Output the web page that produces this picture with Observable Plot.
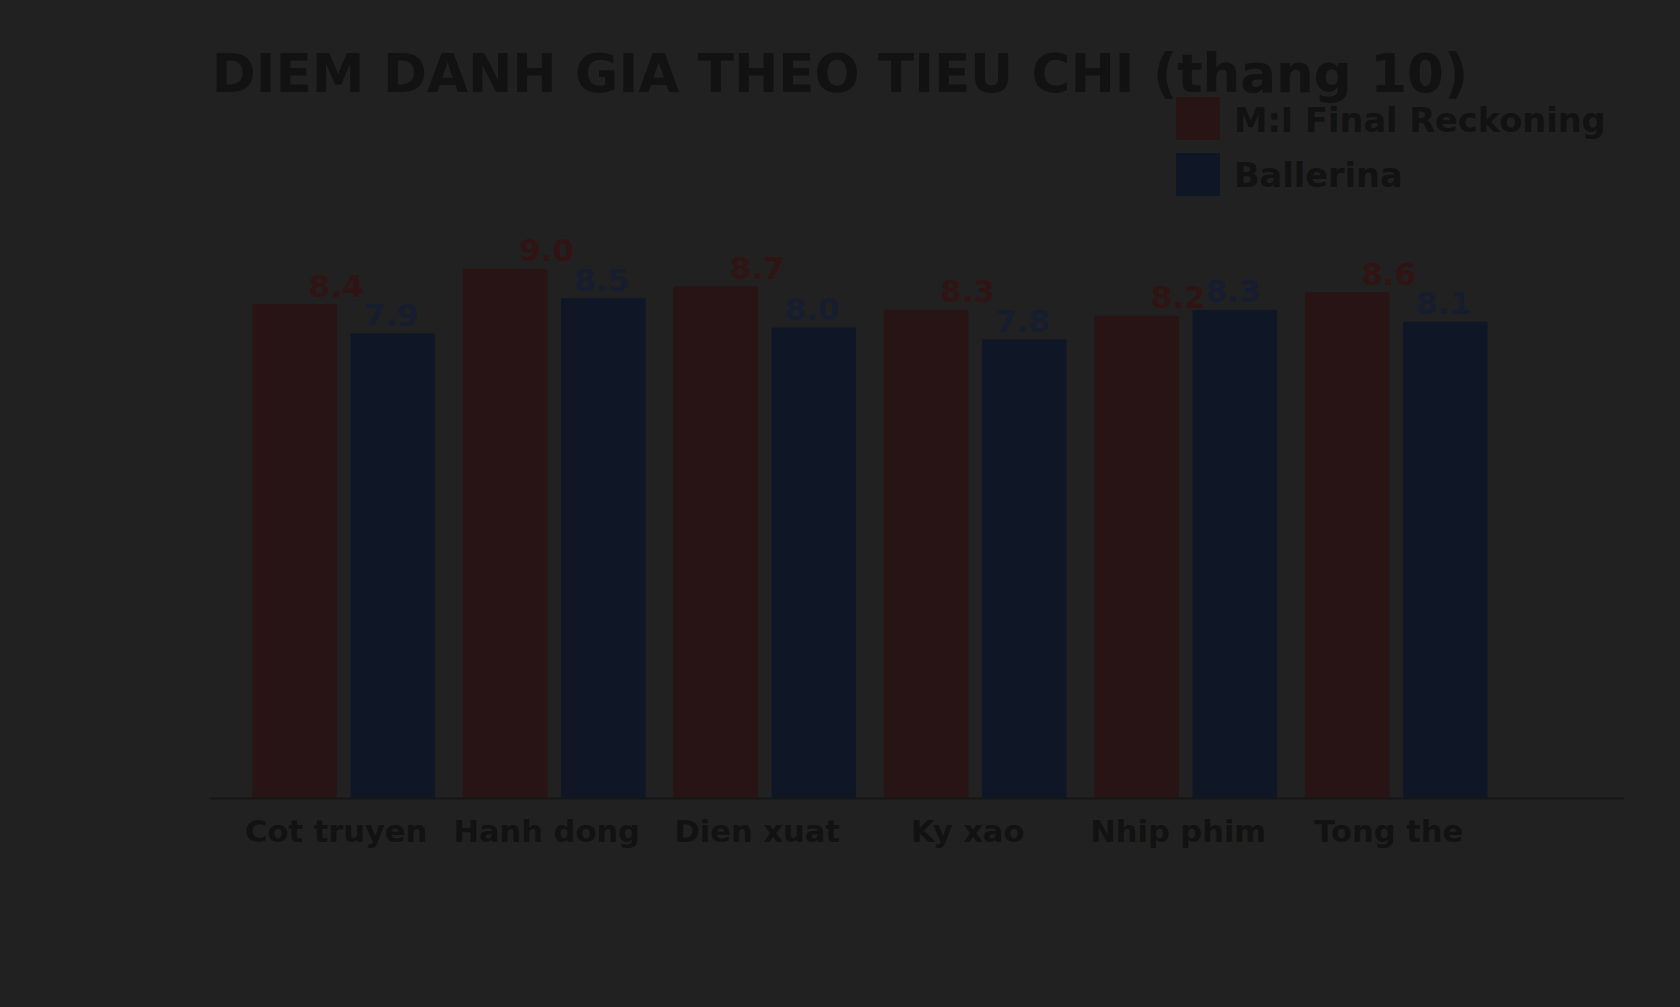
<!DOCTYPE html>
<html>
<head>
<meta charset="utf-8">
<script src="https://cdn.jsdelivr.net/npm/d3@7"></script>
<script src="https://cdn.jsdelivr.net/npm/@observablehq/plot@0.6"></script>
<style>
  html, body { margin: 0; padding: 0; background: #212121; }
  body { width: 1680px; height: 1007px; overflow: hidden; font-family: "DejaVu Sans", sans-serif; }
  #header { position: relative; width: 1680px; height: 200px; }
  #title { position: absolute; left: 0; width: 1680px; top: 47px; text-align: center;
           font-size: 53px; line-height: 53px; font-weight: bold; color: #121212; white-space: nowrap; }
  .sw { position: absolute; left: 1176px; width: 44px; height: 43px; }
  .lt { position: absolute; left: 1234px; font-size: 33.6px; line-height: 33.6px; font-weight: bold; color: #121212; white-space: nowrap; }
</style>
</head>
<body>
<div id="header">
  <div id="title"></div>
  <div class="sw" id="sw0" style="top:97px"></div>
  <div class="lt" id="lt0" style="top:104px"></div>
  <div class="sw" id="sw1" style="top:153px"></div>
  <div class="lt" id="lt1" style="top:159px"></div>
</div>
<div id="chart"></div>
<script>
const titleText = "DIEM DANH GIA THEO TIEU CHI (thang 10)";
const categories = ["Cot truyen", "Hanh dong", "Dien xuat", "Ky xao", "Nhip phim", "Tong the"];
const seriesNames = ["M:I Final Reckoning", "Ballerina"];
const miValues = [8.4, 9.0, 8.7, 8.3, 8.2, 8.6];
const ballerinaValues = [7.9, 8.5, 8.0, 7.8, 8.3, 8.1];
const barColors = ["#281414", "#0f1727"];
const labelColors = ["#301414", "#161d2e"];

document.getElementById("title").textContent = titleText;
seriesNames.forEach((s, i) => {
  document.getElementById("sw" + i).style.background = barColors[i];
  document.getElementById("lt" + i).textContent = s;
});

const miRows = categories.map((c, i) => ({category: c, value: miValues[i]}));
const baRows = categories.map((c, i) => ({category: c, value: ballerinaValues[i]}));
const fmt = d3.format(".1f");

const chart = Plot.plot({
  width: 1680,
  height: 807,
  marginTop: 10,
  marginBottom: 209,
  marginLeft: 210,
  marginRight: 56,
  style: {fontFamily: "DejaVu Sans, sans-serif", color: "#121212", background: "transparent", overflow: "visible"},
  x: {domain: categories, paddingInner: 0, paddingOuter: 0.3587, align: 0.1884, round: false, label: null},
  y: {domain: [0, 10], axis: null},
  marks: [
    Plot.barY(miRows, {x: "category", y: "value", fill: barColors[0], insetLeft: 13.9, insetRight: 112.1}),
    Plot.barY(baRows, {x: "category", y: "value", fill: barColors[1], insetLeft: 112.1, insetRight: 13.9}),
    Plot.text(miRows, {x: "category", y: "value", text: d => fmt(d.value), dx: -8, dy: -8, lineAnchor: "bottom",
      fill: labelColors[0], fontSize: 31, fontWeight: "bold"}),
    Plot.text(baRows, {x: "category", y: "value", text: d => fmt(d.value), dx: 47, dy: -8, lineAnchor: "bottom",
      fill: labelColors[1], fontSize: 31, fontWeight: "bold"}),
    Plot.ruleY([0], {stroke: "#161616", strokeWidth: 2}),
    Plot.axisX({tickSize: 0, tickPadding: 22, fontSize: 30.5, fontWeight: "bold", dx: -8, label: null})
  ]
});
document.getElementById("chart").appendChild(chart);
</script>
</body>
</html>
